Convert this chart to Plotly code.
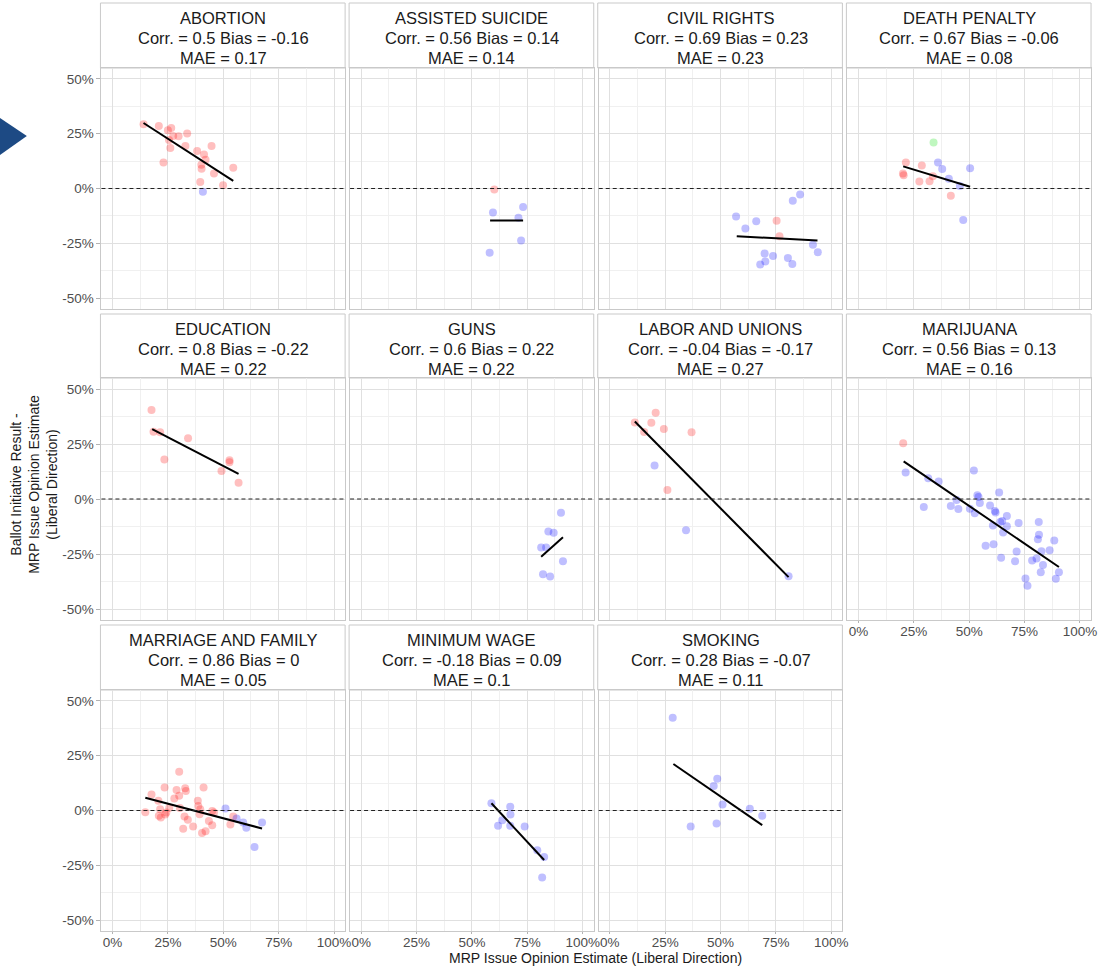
import plotly.graph_objects as go

W, H = 1105, 968

# ---------------- data ----------------
panel_names = ["ABORTION", "ASSISTED SUICIDE", "CIVIL RIGHTS", "DEATH PENALTY",
               "EDUCATION", "GUNS", "LABOR AND UNIONS", "MARIJUANA",
               "MARRIAGE AND FAMILY", "MINIMUM WAGE", "SMOKING"]
corr_vals = ["0.5", "0.56", "0.69", "0.67", "0.8", "0.6", "-0.04", "0.56", "0.86", "-0.18", "0.28"]
bias_vals = ["-0.16", "0.14", "0.23", "-0.06", "-0.22", "0.22", "-0.17", "0.13", "0", "0.09", "-0.07"]
mae_vals = ["0.17", "0.14", "0.23", "0.08", "0.22", "0.22", "0.27", "0.16", "0.05", "0.1", "0.11"]

x_tick_vals = [0, 0.25, 0.5, 0.75, 1.0]
x_tick_text = ["0%", "25%", "50%", "75%", "100%"]
y_tick_vals = [-0.5, -0.25, 0, 0.25, 0.5]
y_tick_text = ["-50%", "-25%", "0%", "25%", "50%"]

abortion_x = [0.14, 0.209, 0.25, 0.265, 0.274, 0.298, 0.337, 0.255, 0.261, 0.329, 0.23, 0.382, 0.413,
              0.447, 0.42, 0.401, 0.402, 0.458, 0.396, 0.499, 0.545, 0.408]
abortion_y = [0.293, 0.285, 0.266, 0.276, 0.24, 0.239, 0.251, 0.221, 0.185, 0.194, 0.119, 0.171, 0.155,
              0.194, 0.131, 0.108, 0.09, 0.069, 0.03, 0.015, 0.095, -0.015]
abortion_g = ["r"] * 21 + ["b"]
abortion_fit_x = [0.14, 0.545]
abortion_fit_y = [0.299, 0.035]

suicide_x = [0.601, 0.595, 0.731, 0.71, 0.722, 0.58]
suicide_y = [-0.005, -0.11, -0.084, -0.134, -0.237, -0.293]
suicide_g = ["r", "b", "b", "b", "b", "b"]
suicide_fit_x = [0.582, 0.731]
suicide_fit_y = [-0.146, -0.146]

civil_x = [0.57, 0.612, 0.661, 0.753, 0.766, 0.826, 0.859, 0.699, 0.737, 0.702, 0.679, 0.804, 0.824, 0.917, 0.939]
civil_y = [-0.128, -0.183, -0.15, -0.147, -0.218, -0.056, -0.027, -0.297, -0.308, -0.333, -0.347, -0.317,
           -0.345, -0.257, -0.291]
civil_g = ["b", "b", "b", "r", "r", "b", "b", "b", "b", "b", "b", "b", "b", "b", "b"]
civil_fit_x = [0.573, 0.9375]
civil_fit_y = [-0.218, -0.237]

death_x = [0.339, 0.214, 0.286, 0.359, 0.378, 0.504, 0.201, 0.204, 0.275, 0.321, 0.336, 0.408, 0.458, 0.417, 0.473]
death_y = [0.21, 0.119, 0.105, 0.119, 0.089, 0.092, 0.069, 0.06, 0.032, 0.033, 0.056, 0.044, 0.011, -0.033, -0.144]
death_g = ["g", "r", "r", "b", "b", "b", "r", "r", "r", "r", "r", "b", "b", "r", "b"]
death_fit_x = [0.202, 0.504]
death_fit_y = [0.101, 0.008]

education_x = [0.176, 0.185, 0.215, 0.341, 0.234, 0.528, 0.528, 0.492, 0.569]
education_y = [0.405, 0.306, 0.303, 0.276, 0.179, 0.176, 0.167, 0.127, 0.074]
education_g = ["r"] * 9
education_fit_x = [0.179, 0.569]
education_fit_y = [0.318, 0.114]

guns_x = [0.902, 0.845, 0.869, 0.8125, 0.835, 0.911, 0.821, 0.853]
guns_y = [-0.062, -0.148, -0.153, -0.22, -0.22, -0.283, -0.342, -0.352]
guns_g = ["b"] * 8
guns_fit_x = [0.8125, 0.911]
guns_fit_y = [-0.262, -0.174]

labor_x = [0.113, 0.207, 0.1875, 0.155, 0.244, 0.369, 0.202, 0.26, 0.344, 0.807]
labor_y = [0.348, 0.392, 0.347, 0.305, 0.318, 0.303, 0.152, 0.041, -0.142, -0.351]
labor_g = ["r", "r", "r", "r", "r", "r", "b", "r", "b", "b"]
labor_fit_x = [0.113, 0.807]
labor_fit_y = [0.352, -0.355]

marijuana_x = [0.202, 0.213, 0.315, 0.362, 0.295, 0.521, 0.537, 0.542, 0.548, 0.443, 0.417, 0.451, 0.503,
               0.525, 0.635, 0.594, 0.616, 0.619, 0.67, 0.64, 0.649, 0.607, 0.67, 0.653, 0.723, 0.814,
               0.815, 0.81, 0.884, 0.574, 0.61, 0.714, 0.644, 0.707, 0.826, 0.863, 0.804, 0.784, 0.833,
               0.823, 0.905, 0.891, 0.754, 0.763]
marijuana_y = [0.253, 0.12, 0.094, 0.079, -0.036, 0.13, 0.017, 0.009, -0.018, -0.005, -0.032, -0.045, -0.044,
               -0.065, 0.029, -0.03, -0.055, -0.061, -0.077, -0.105, -0.1, -0.121, -0.124, -0.152, -0.109,
               -0.105, -0.162, -0.183, -0.189, -0.212, -0.206, -0.239, -0.267, -0.283, -0.238, -0.233,
               -0.27, -0.28, -0.3, -0.333, -0.333, -0.362, -0.361, -0.394]
marijuana_g = ["r"] + ["b"] * 43
marijuana_fit_x = [0.204, 0.905]
marijuana_fit_y = [0.171, -0.309]

marriage_x = [0.148, 0.176, 0.207, 0.215, 0.209, 0.218, 0.238, 0.243, 0.256, 0.235, 0.279, 0.289, 0.301,
              0.301, 0.304, 0.319, 0.325, 0.328, 0.331, 0.34, 0.364, 0.385, 0.387, 0.396, 0.393, 0.404,
              0.411, 0.42, 0.435, 0.45, 0.45, 0.458, 0.532, 0.545,
              0.51, 0.56, 0.59, 0.604, 0.641, 0.675]
marriage_y = [-0.008, 0.073, 0.045, 0.006, -0.024, -0.032, -0.018, -0.009, 0.011, 0.105, 0.055, 0.094, 0.067,
              0.177, 0.011, -0.083, -0.027, 0.102, 0.089, -0.042, -0.073, 0.045, 0.021, 0.006, -0.017, -0.103,
              0.105, -0.095, -0.048, -0.067, -0.002, -0.009, -0.064, -0.027,
              0.009, -0.036, -0.055, -0.079, -0.167, -0.055]
marriage_g = ["r"] * 34 + ["b"] * 6
marriage_fit_x = [0.148, 0.675]
marriage_fit_y = [0.058, -0.082]

wage_x = [0.588, 0.673, 0.674, 0.637, 0.618, 0.673, 0.738, 0.795, 0.826, 0.817]
wage_y = [0.033, 0.017, -0.018, -0.044, -0.07, -0.07, -0.073, -0.182, -0.212, -0.306]
wage_g = ["b"] * 10
wage_fit_x = [0.588, 0.826]
wage_fit_y = [0.033, -0.226]

smoking_x = [0.284, 0.485, 0.469, 0.509, 0.632, 0.688, 0.482, 0.365]
smoking_y = [0.423, 0.145, 0.112, 0.027, 0.008, -0.024, -0.059, -0.073]
smoking_g = ["b"] * 8
smoking_fit_x = [0.287, 0.688]
smoking_fit_y = [0.212, -0.067]

panels_x = [abortion_x, suicide_x, civil_x, death_x, education_x, guns_x, labor_x, marijuana_x,
            marriage_x, wage_x, smoking_x]
panels_y = [abortion_y, suicide_y, civil_y, death_y, education_y, guns_y, labor_y, marijuana_y,
            marriage_y, wage_y, smoking_y]
panels_g = [abortion_g, suicide_g, civil_g, death_g, education_g, guns_g, labor_g, marijuana_g,
            marriage_g, wage_g, smoking_g]
fits_x = [abortion_fit_x, suicide_fit_x, civil_fit_x, death_fit_x, education_fit_x, guns_fit_x, labor_fit_x,
          marijuana_fit_x, marriage_fit_x, wage_fit_x, smoking_fit_x]
fits_y = [abortion_fit_y, suicide_fit_y, civil_fit_y, death_fit_y, education_fit_y, guns_fit_y, labor_fit_y,
          marijuana_fit_y, marriage_fit_y, wage_fit_y, smoking_fit_y]

group_colors = {"r": "#FF0000", "g": "#00E000", "b": "#0000FF"}

# ---------------- layout geometry (pixels) ----------------
col_left = [102, 352, 602, 852]
panel_w = 245
row_top = [68, 378, 690]
row_bot = [309, 620, 931]
strip_top = [3, 314, 625]
strip_line_off = [15, 35, 55]


def fx(px):
    return px / W


def fy(py):
    return 1 - py / H


FONT = "Liberation Sans, Arial, sans-serif"
TEXT_COL = "#1a1a1a"
TICK_COL = "#4d4d4d"
BORDER = "#c9c9c9"
GRID_MAJ = "#e0e0e0"
GRID_MIN = "#f0f0f0"

fig = go.Figure()
layout = dict(width=W, height=H, margin=dict(l=0, r=0, t=0, b=0),
              paper_bgcolor="white", plot_bgcolor="white", showlegend=False,
              font=dict(family=FONT, color=TEXT_COL))
shapes = []
annotations = []

for i, name in enumerate(panel_names):
    r, c = divmod(i, 4)
    k = i + 1
    xa = "x" if k == 1 else f"x{k}"
    ya = "y" if k == 1 else f"y{k}"
    xkey = "xaxis" if k == 1 else f"xaxis{k}"
    ykey = "yaxis" if k == 1 else f"yaxis{k}"

    show_x = (r == 2) or (r == 1 and c == 3)
    show_y = (c == 0)

    layout[xkey] = dict(
        domain=[fx(col_left[c]), fx(col_left[c] + panel_w)], anchor=ya,
        range=[-0.05, 1.05], tickvals=x_tick_vals, ticktext=x_tick_text,
        showticklabels=show_x, ticks="outside" if show_x else "", ticklen=2,
        ticklabelstandoff=-3,
        tickcolor="#b3b3b3", tickfont=dict(size=13.5, color=TICK_COL, family=FONT),
        showgrid=True, gridcolor=GRID_MAJ, gridwidth=1,
        minor=dict(tickvals=[0.125, 0.375, 0.625, 0.875], showgrid=True, gridcolor=GRID_MIN, gridwidth=1),
        zeroline=False, showline=True, mirror=True, linecolor=BORDER, linewidth=1,
        fixedrange=True)
    layout[ykey] = dict(
        domain=[fy(row_bot[r]), fy(row_top[r])], anchor=xa,
        range=[-0.55, 0.55], tickvals=y_tick_vals, ticktext=y_tick_text,
        showticklabels=show_y, ticks="outside" if show_y else "", ticklen=4,
        tickcolor="#b3b3b3", tickfont=dict(size=13.5, color=TICK_COL, family=FONT),
        showgrid=True, gridcolor=GRID_MAJ, gridwidth=1,
        minor=dict(tickvals=[-0.375, -0.125, 0.125, 0.375], showgrid=True, gridcolor=GRID_MIN, gridwidth=1),
        zeroline=False, showline=True, mirror=True, linecolor=BORDER, linewidth=1,
        fixedrange=True)

    # zero reference line
    shapes.append(dict(type="line", xref=f"{xa} domain", yref=ya, x0=0, x1=1, y0=0, y1=0,
                       line=dict(color="#222222", width=1, dash="4px,3px"), layer="above"))

    # points by group
    for g in ["r", "g", "b"]:
        xs = [x for x, gg in zip(panels_x[i], panels_g[i]) if gg == g]
        ys = [y for y, gg in zip(panels_y[i], panels_g[i]) if gg == g]
        if xs:
            fig.add_trace(go.Scatter(x=xs, y=ys, mode="markers", xaxis=xa, yaxis=ya,
                                     marker=dict(color=group_colors[g], size=8, opacity=0.25,
                                                 line=dict(width=0)),
                                     hoverinfo="skip"))
    # fit line
    fig.add_trace(go.Scatter(x=fits_x[i], y=fits_y[i], mode="lines", xaxis=xa, yaxis=ya,
                             line=dict(color="black", width=2), hoverinfo="skip"))

    # strip
    shapes.append(dict(type="rect", xref="paper", yref="paper",
                       x0=fx(col_left[c] - 1), x1=fx(col_left[c] + panel_w),
                       y0=fy(row_top[r]), y1=fy(strip_top[r]),
                       fillcolor="white", line=dict(color=BORDER, width=1), layer="below"))
    lines = [name, f"Corr. = {corr_vals[i]} Bias = {bias_vals[i]}", f"MAE = {mae_vals[i]}"]
    for j, txt in enumerate(lines):
        annotations.append(dict(text=txt, xref="paper", yref="paper",
                                x=fx(col_left[c] + panel_w / 2), y=fy(strip_top[r] + strip_line_off[j]),
                                xanchor="center", yanchor="middle", showarrow=False,
                                font=dict(size=16.5, color=TEXT_COL, family=FONT)))

# axis titles
annotations.append(dict(text="MRP Issue Opinion Estimate (Liberal Direction)", xref="paper", yref="paper",
                        x=fx(599), y=fy(958), xanchor="center", yanchor="middle", showarrow=False,
                        font=dict(size=14, color=TEXT_COL, family=FONT)))
annotations.append(dict(text="Ballot Initiative Result -<br>MRP Issue Opinion Estimate<br>(Liberal Direction)",
                        xref="paper", yref="paper", x=fx(34), y=fy(484), xanchor="center", yanchor="middle",
                        textangle=-90, showarrow=False,
                        font=dict(size=14, color=TEXT_COL, family=FONT)))

# decorative marker arrow at left
shapes.append(dict(type="path", xref="paper", yref="paper",
                   path=f"M 0,{fy(118)} L {fx(27)},{fy(136)} L 0,{fy(155)} Z",
                   fillcolor="#1d4a84", line=dict(width=0)))

layout["shapes"] = shapes
layout["annotations"] = annotations
fig.update_layout(**layout)

fig.write_html("out.html")
